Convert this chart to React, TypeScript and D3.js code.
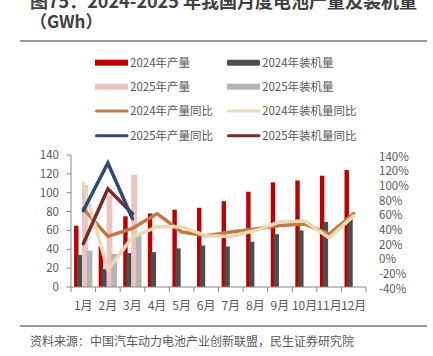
import React from "react";
import * as d3 from "d3";

const months = ["1月", "2月", "3月", "4月", "5月", "6月", "7月", "8月", "9月", "10月", "11月", "12月"];
const prod2024 = [65, 43, 75, 78, 82, 84, 91, 101, 111, 113, 118, 124];
const inst2024 = [34, 19, 36, 37, 41, 44, 43, 48, 56, 60, 69, 75];
const prod2025 = [108, 97, 119];
const inst2025 = [38.5, 35, 56];
const prodYoY2024 = [67, 29, 40, 60, 35, 30, 35, 39, 44, 46, 32, 60];
const instYoY2024 = [101, -17, 28, 42, 42, 30, 29, 37, 49, 50, 27, 57];
const prodYoY2025 = [64, 129, 53];
const instYoY2025 = [19, 94, 60];
const leftTicks = [0, 20, 40, 60, 80, 100, 120, 140];
const rightTicks = [-40, -20, 0, 20, 40, 60, 80, 100, 120, 140];

const FONT = "'Noto Sans CJK SC', 'Noto Sans', sans-serif";
const TXT = "#595959";

const C = {
  red: "#C00000",
  dark: "#4D4D4F",
  pink: "#EBC3C3",
  gray: "#B4B4B4",
  orange: "#C27A45",
  beige: "#EBD8B7",
  navy: "#2B4A75",
  maroon: "#7A2A27",
};

export default function App() {
  const x = d3.scaleBand<string>().domain(months).range([71, 366]);
  const bw = x.bandwidth();
  const yL = d3.scaleLinear().domain([0, 140]).range([287, 155]);
  const yR = d3.scaleLinear().domain([-40, 140]).range([287, 155]);
  const cx = (i: number) => (x(months[i]) as number) + bw / 2;
  const line = d3
    .line<number>()
    .x((_, i) => cx(i))
    .y((d) => yR(d));

  const bars = (vals: number[], f0: number, f1: number, color: string, key: string) =>
    vals.map((v, i) => {
      const x0 = (x(months[i]) as number) + bw * f0;
      return (
        <rect key={key + i} x={x0} y={yL(v)} width={bw * (f1 - f0)} height={yL(0) - yL(v)} fill={color} />
      );
    });

  const legend = [
    { t: "2024年产量", c: C.red, type: "bar" },
    { t: "2024年装机量", c: C.dark, type: "bar" },
    { t: "2025年产量", c: C.pink, type: "bar" },
    { t: "2025年装机量", c: C.gray, type: "bar" },
    { t: "2024年产量同比", c: C.orange, type: "line" },
    { t: "2024年装机量同比", c: C.beige, type: "line" },
    { t: "2025年产量同比", c: C.navy, type: "line" },
    { t: "2025年装机量同比", c: C.maroon, type: "line" },
  ];
  const legY = [62.7, 86.7, 111, 135.7];

  return (
    <svg width={433} height={356} style={{ position: "absolute", left: 0, top: 0 }} fontFamily={FONT}>
      <rect width={433} height={356} fill="#fff" />
      <text x={30} y={8} fontSize={18} fontWeight="bold" fill="#404040">
        图75：2024-2025 年我国月度电池产量及装机量
      </text>
      <text x={30} y={28} fontSize={17} fontWeight="bold" fill="#404040">
        （GWh）
      </text>
      <line x1={20} x2={427} y1={41} y2={41} stroke="#777" strokeWidth={1.5} />

      {legend.map((l, i) => {
        const col = i % 2;
        const row = Math.floor(i / 2);
        const sx = col === 0 ? 95 : 227;
        const y = legY[row];
        return (
          <g key={l.t}>
            {l.type === "bar" ? (
              <rect x={sx} y={y - 3} width={33} height={6} fill={l.c} rx={col === 1 && row === 0 ? 1.5 : 0} />
            ) : (
              <line x1={sx + 1.5} x2={sx + 32} y1={y} y2={y} stroke={l.c} strokeWidth={3} strokeLinecap="round" />
            )}
            <text x={sx + 35} y={y} dy="0.35em" fontSize={11.5} fill={TXT}>
              {l.t}
            </text>
          </g>
        );
      })}

      {bars(prod2024, 0.125, 0.305, C.red, "r")}
      {bars(inst2024, 0.245, 0.46, C.dark, "d")}
      {bars(prod2025, 0.45, 0.685, C.pink, "p")}
      {bars(inst2025, 0.64, 0.87, C.gray, "g")}

      <path d={line(prodYoY2024) || ""} fill="none" stroke={C.orange} strokeWidth={3.5} strokeLinejoin="round" strokeLinecap="round" />
      <path d={line(instYoY2024) || ""} fill="none" stroke={C.beige} strokeWidth={3.5} strokeLinejoin="round" strokeLinecap="round" />
      <path d={line(instYoY2025) || ""} fill="none" stroke={C.maroon} strokeWidth={3.5} strokeLinejoin="miter" strokeLinecap="round" />
      <path d={line(prodYoY2025) || ""} fill="none" stroke={C.navy} strokeWidth={3.5} strokeLinejoin="miter" strokeLinecap="round" />

      {/* left axis */}
      <line x1={71} x2={71} y1={yL(140)} y2={yL(0)} stroke="#888" strokeWidth={1} />
      {leftTicks.map((t) => (
        <g key={"lt" + t}>
          <line x1={66.5} x2={71} y1={yL(t)} y2={yL(t)} stroke="#888" />
          <text x={59} y={yL(t)} dy="0.35em" textAnchor="end" fontSize={11.5} fill={TXT}>
            {t}
          </text>
        </g>
      ))}
      {/* x axis */}
      <line x1={71} x2={366} y1={287} y2={287} stroke="#888" strokeWidth={1.2} />
      {months.map((m) => (
        <line key={"xt" + m} x1={x(m) as number} x2={x(m) as number} y1={287} y2={292} stroke="#888" />
      ))}
      <line x1={366} x2={366} y1={287} y2={292} stroke="#888" />
      {months.map((m, i) => (
        <text key={"xl" + m} x={cx(i)} y={306} dy="0.35em" textAnchor="middle" fontSize={12} fill={TXT}>
          {m}
        </text>
      ))}
      {/* right axis labels */}
      {rightTicks.map((t) => (
        <text key={"rt" + t} x={379} y={yR(t) + 1.5} dy="0.35em" fontSize={11.5} fill={TXT}>
          {t + "%"}
        </text>
      ))}

      <line x1={20} x2={427} y1={326} y2={326} stroke="#777" strokeWidth={1.5} />
      <text x={30} y={342} dy="0.35em" fontSize={12} fill={TXT}>
        资料来源：中国汽车动力电池产业创新联盟，民生证券研究院
      </text>
    </svg>
  );
}
